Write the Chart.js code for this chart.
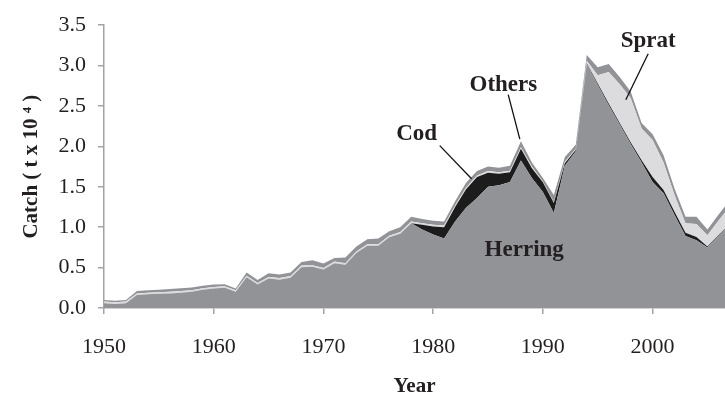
<!DOCTYPE html>
<html><head><meta charset="utf-8">
<script src="https://cdn.jsdelivr.net/npm/chart.js@4/dist/chart.umd.min.js"></script>
<style>html,body{margin:0;padding:0;background:#fff;overflow:hidden}</style>
</head><body>
<canvas id="c" width="725" height="400"></canvas>
<script>
const years = [1950,1951,1952,1953,1954,1955,1956,1957,1958,1959,1960,1961,1962,1963,1964,1965,1966,1967,1968,1969,1970,1971,1972,1973,1974,1975,1976,1977,1978,1979,1980,1981,1982,1983,1984,1985,1986,1987,1988,1989,1990,1991,1992,1993,1994,1995,1996,1997,1998,1999,2000,2001,2002,2003,2004,2005,2006,2007];
const herring = [0.06,0.05,0.06,0.16,0.17,0.175,0.18,0.19,0.20,0.225,0.24,0.25,0.20,0.38,0.29,0.365,0.35,0.375,0.505,0.51,0.475,0.555,0.535,0.68,0.77,0.77,0.875,0.92,1.05,0.97,0.91,0.86,1.07,1.24,1.36,1.50,1.52,1.56,1.825,1.61,1.435,1.175,1.76,1.94,3.02,2.76,2.51,2.27,2.03,1.80,1.56,1.42,1.15,0.89,0.84,0.75,0.89,1.02];
const cod = [0,0,0,0,0,0,0,0,0,0,0,0,0,0,0,0,0,0,0,0,0,0,0,0,0,0,0,0,0,0.06,0.10,0.14,0.18,0.23,0.26,0.175,0.14,0.12,0.145,0.12,0.12,0.125,0.03,0.02,0.01,0.02,0.02,0.02,0.02,0.03,0.06,0.04,0.04,0.04,0.04,0.01,0.01,0.01];
const sprat = [0.02,0.02,0.02,0.02,0.02,0.02,0.02,0.02,0.02,0.02,0.02,0.02,0.02,0.02,0.02,0.02,0.02,0.02,0.02,0.02,0.02,0.02,0.02,0.02,0.02,0.02,0.02,0.02,0.02,0.02,0.02,0.02,0.02,0.02,0.02,0.02,0.02,0.02,0.02,0.02,0.01,0.01,0.02,0.01,0.03,0.10,0.39,0.48,0.55,0.39,0.46,0.34,0.21,0.12,0.16,0.14,0.18,0.22];
const others = [0.02,0.02,0.02,0.03,0.03,0.03,0.035,0.035,0.035,0.03,0.03,0.025,0.02,0.04,0.035,0.045,0.045,0.045,0.045,0.06,0.055,0.045,0.07,0.06,0.06,0.07,0.055,0.06,0.06,0.05,0.05,0.05,0.05,0.06,0.055,0.055,0.055,0.06,0.075,0.05,0.045,0.09,0.06,0.05,0.07,0.10,0.10,0.09,0.08,0.07,0.07,0.09,0.08,0.08,0.09,0.07,0.075,0.08];
const xTicks = [1950,1960,1970,1980,1990,2000];
const yTicks = [0,0.5,1,1.5,2,2.5,3,3.5];
const notes = [
  {text:'Herring', x:1988.3, y:0.72},
  {text:'Cod', x:1978.5, y:2.15, from:[1980.6,2.01], to:[1983.5,1.60]},
  {text:'Others', x:1986.4, y:2.76, from:[1986.84,2.64], to:[1987.9,2.09]},
  {text:'Sprat', x:1999.6, y:3.30, from:[1999.6,3.146], to:[1997.56,2.577]}
];

const FONT = '"Liberation Serif", "Times New Roman", serif';
const TXT = '#231f20';
const AX = '#a3a3a3';
const pts = arr => years.map((y,i)=>({x:y, y:arr[i]}));

const notePlugin = {
  id:'notes',
  afterDatasetsDraw(chart){
    const {ctx, scales:{x, y}} = chart;
    ctx.save();
    ctx.fillStyle = TXT; ctx.strokeStyle = '#111';
    ctx.lineWidth = 1.3;
    ctx.font = 'bold 23px ' + FONT;
    ctx.textAlign = 'center'; ctx.textBaseline = 'middle';
    notes.forEach(n=>{
      ctx.fillText(n.text, x.getPixelForValue(n.x), y.getPixelForValue(n.y));
      if(n.from){
        ctx.beginPath();
        ctx.moveTo(x.getPixelForValue(n.from[0]), y.getPixelForValue(n.from[1]));
        ctx.lineTo(x.getPixelForValue(n.to[0]), y.getPixelForValue(n.to[1]));
        ctx.stroke();
      }
    });
    ctx.restore();
  }
};

const ds = (label, arr, color, fill) => ({label, data:pts(arr), backgroundColor:color, borderColor:'rgba(0,0,0,0)', borderWidth:0, pointRadius:0, fill, tension:0});

new Chart(document.getElementById('c'), {
  type:'line',
  data:{datasets:[
    ds('Herring', herring, '#929397', 'origin'),
    ds('Cod', cod, '#1c1c1c', '-1'),
    ds('Sprat', sprat, '#dcdcde', '-1'),
    ds('Others', others, '#929397', '-1')
  ]},
  options:{
    responsive:false, animation:false, devicePixelRatio:1,
    layout:{padding:{top:21,right:0,left:0,bottom:0}},
    plugins:{legend:{display:false}, tooltip:{enabled:false}},
    scales:{
      x:{type:'linear', min:1950, max:2006.6,
        afterFit: s => { s.height = 92; },
        afterBuildTicks: s => { s.ticks = xTicks.map(v=>({value:v})); },
        ticks:{padding:20, color:TXT, font:{family:FONT, size:22}, callback:v=>String(v)},
        grid:{drawOnChartArea:false, drawTicks:true, tickLength:6, color:AX, lineWidth:1.5},
        border:{color:AX, width:1.5},
        title:{display:true, text:'Year', color:TXT, font:{family:FONT, size:21, weight:'bold'}, padding:{top:0,bottom:1}}
      },
      y:{stacked:true, min:0, max:3.5,
        afterFit: s => { s.width = 104; },
        afterBuildTicks: s => { s.ticks = yTicks.map(v=>({value:v})); },
        ticks:{padding:12, color:TXT, font:{family:FONT, size:22}, callback:v=>Number(v).toFixed(1)},
        grid:{drawOnChartArea:false, drawTicks:true, tickLength:6, color:AX, lineWidth:1.5},
        border:{color:AX, width:1.5},
        title:{display:true, text:'Catch ( t x 10 \u2074 )', color:TXT, font:{family:FONT, size:21, weight:'bold'}, padding:{top:19,bottom:0}}
      }
    }
  },
  plugins:[notePlugin]
});
</script>
</body></html>
